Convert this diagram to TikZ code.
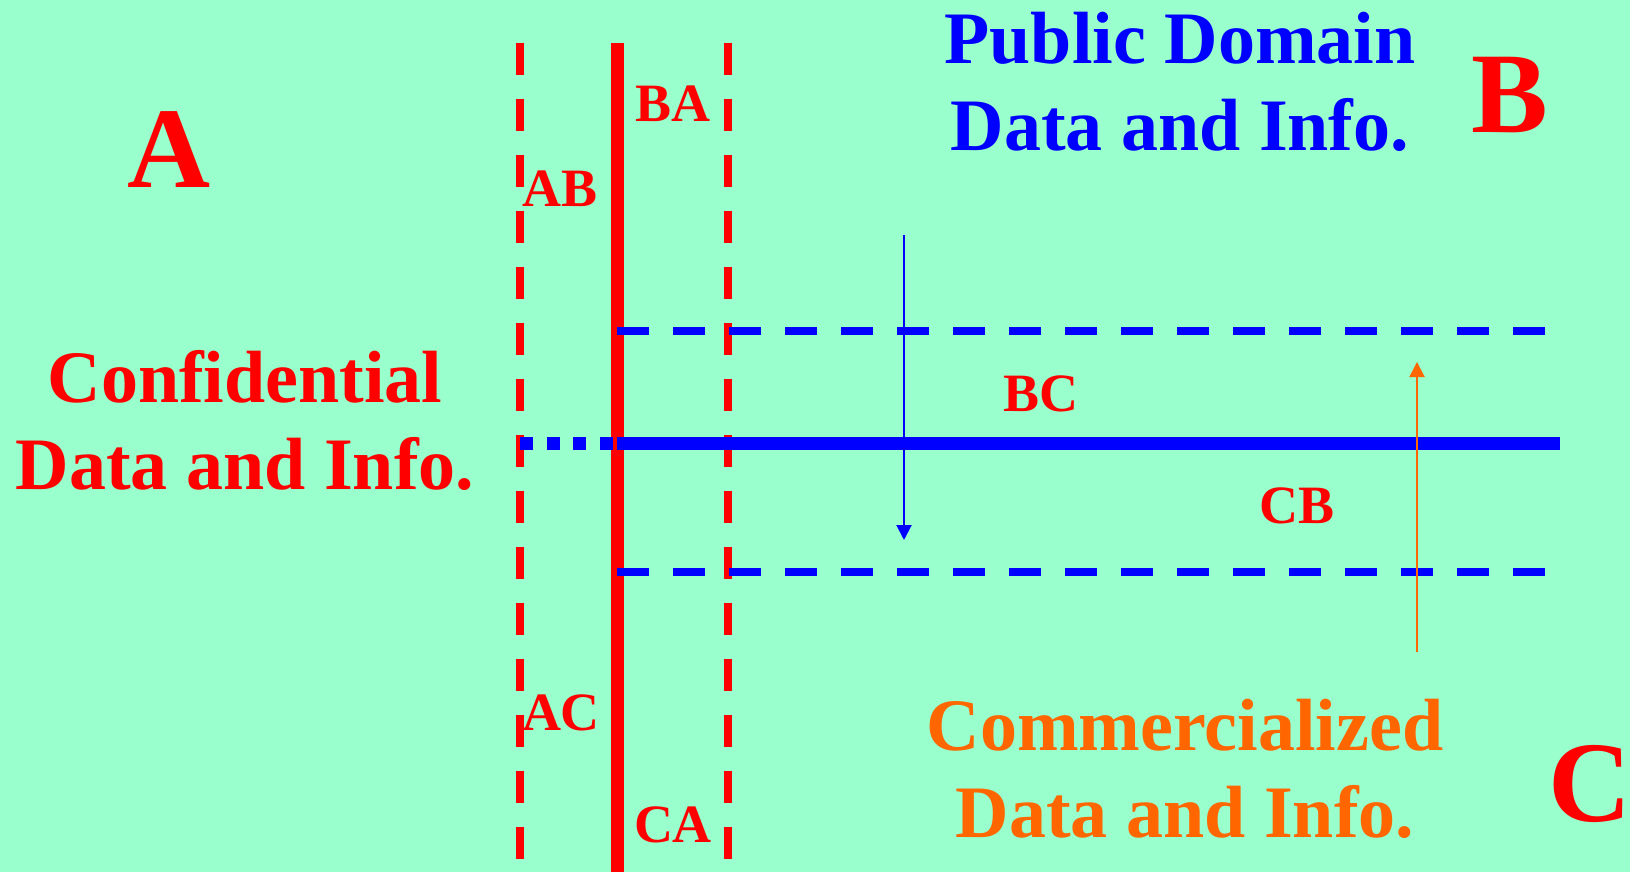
\documentclass[tikz,border=0pt]{standalone}
\usepackage{fontspec}
\setmainfont{Liberation Serif}
\usetikzlibrary{arrows.meta}
\definecolor{mint}{RGB}{153,255,204}
\definecolor{commorange}{RGB}{255,102,0}

\begin{document}
\begin{tikzpicture}[x=1pt,y=-1pt]
	\fill[mint] (0,0) rectangle (1630,872);
	\useasboundingbox (0,0) rectangle (1630,872);

	\coordinate (ABtop) at (520,43);
	\coordinate (ABbot) at (520,872);
	\coordinate (Atop) at (617,43);
	\coordinate (Abot) at (617,872);
	\coordinate (BAtop) at (728,43);
	\coordinate (BAbot) at (728,872);
	\coordinate (BCleft) at (617,331);
	\coordinate (BCright) at (1548,331);
	\coordinate (CBleft) at (617,572);
	\coordinate (CBright) at (1548,572);
	\coordinate (Bleft) at (520,443);
	\coordinate (Bmid) at (617,443);
	\coordinate (Bright) at (1560,443);
	\coordinate (downtop) at (904,235);
	\coordinate (downbot) at (904,540);
	\coordinate (upbot) at (1417,652);
	\coordinate (uptop) at (1417,362);

	\begin{scope}[every edge/.style={draw=red, line width=8pt, dash pattern=on 32pt off 24pt}]
		\path (ABtop) edge (ABbot);
		\path (BAtop) edge (BAbot);
	\end{scope}
	\path [draw=red, line width=13pt] (Atop) -- (Abot);
	\begin{scope}[every edge/.style={draw=blue, line width=8pt, dash pattern=on 32pt off 24pt}]
		\path (BCleft) edge (BCright);
		\path (CBleft) edge (CBright);
	\end{scope}
	\path [draw=blue, line width=13pt, dash pattern=on 13pt off 13.7pt] (Bleft) -- (Bmid);
	\path [draw=blue, line width=13pt] (Bmid) -- (Bright);
	\begin{scope}[>={Triangle[length=15pt, width=15pt]},
			every edge/.style={line width=2pt}]
		\path [->, blue] (downtop) edge [draw=blue] (downbot);
		\path [->, commorange] (upbot) edge [draw=commorange] (uptop);
	\end{scope}

	\begin{scope}[every node/.style={text=red, anchor=base, font=\bfseries\fontsize{54}{54}\selectfont}]
		\node (ba) at (673,122) {BA};
		\node (ab) at (560,206) {AB};
		\node (ac) at (561,730) {AC};
		\node (ca) at (673,842) {CA};
		\node (bc) at (1041,411) {BC};
		\node (cb) at (1297,523) {CB};
	\end{scope}
	\begin{scope}[every node/.style={text=red, anchor=base, font=\bfseries\fontsize{115}{115}\selectfont}]
		\node (A) at (169,187) {A};
		\node (B) at (1510,133) {B};
		\node (C) at (1590,821) {C};
	\end{scope}
	\begin{scope}[every node/.style={align=center, font=\bfseries\fontsize{74}{87}\selectfont}]
		\node [text=red] (conf) at (245,420) {Confidential\\Data and Info.};
		\node [text=blue] (pub) at (1180,82) {Public Domain\\Data and Info.};
		\node [text=commorange] (comm) at (1185,769) {Commercialized\\Data and Info.};
	\end{scope}
\end{tikzpicture}
\end{document}
